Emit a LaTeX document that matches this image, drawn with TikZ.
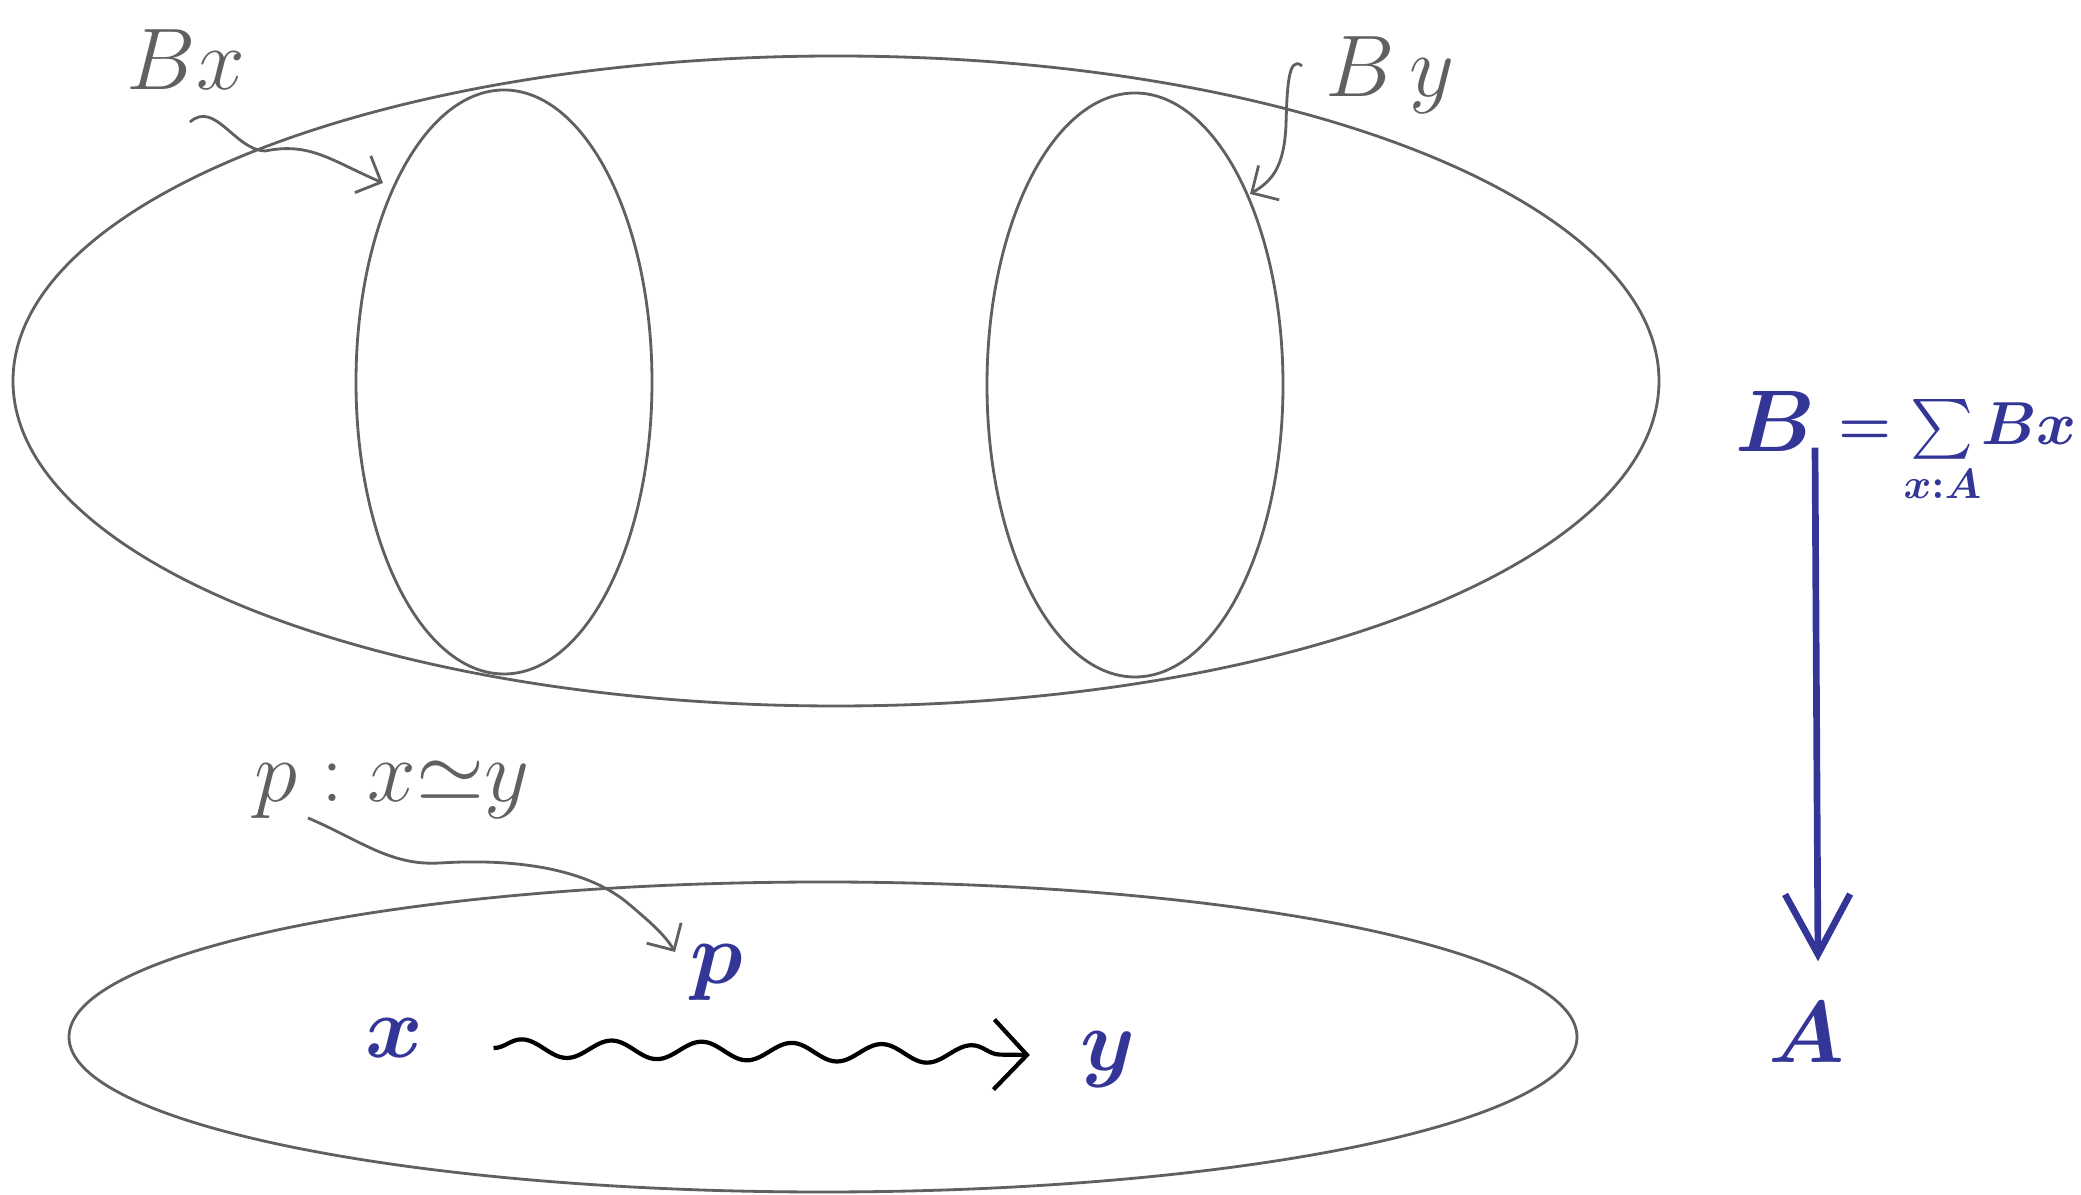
\documentclass[tikz,border=0pt]{standalone}
\usepackage{amsmath,amssymb}
\usepackage{xcolor}
\usepackage{tikz}
\usetikzlibrary{calc,arrows.meta,positioning,decorations.pathmorphing}
\definecolor{inkgray}{HTML}{606060}
\definecolor{inkblue}{HTML}{343697}
\tikzset{
  blob/.style={draw=inkgray,line width=0.8pt},
  gar/.style={-{Straight Barb[length=2mm,width=4mm]},line width=0.8pt,inkgray},
  glab/.style={inkgray,inner sep=0pt},
  blab/.style={inkblue,inner sep=0pt,font=\boldmath}
}

\begin{document}
\begin{tikzpicture}[x=0.01cm,y=-0.01cm]
\useasboundingbox (0,0) rectangle (2081,1195);
% total space and the two fibres
\draw[blob] (836,381) ellipse [x radius=823,y radius=325];
\draw[blob] (504,382) ellipse [x radius=148,y radius=292];
\draw[blob] (1135,385) ellipse [x radius=148,y radius=292];
% base
\draw[blob] (823,1037) ellipse [x radius=754,y radius=155];
% gray labels
\node[glab,font=\fontsize{27}{30}\selectfont] (bx) at (186,60) {$Bx$};
\node[glab,font=\fontsize{30}{33}\selectfont] (by) at (1390,75) {$B\,y$};
\node[glab,font=\fontsize{26}{29}\selectfont] (plab) at (392,790) {$p : x{\simeq}y$};
\coordinate (bxtail) at (190,122);
\coordinate (bxtip) at (383,183);
\coordinate (bytail) at (1302,66);
\coordinate (bytip) at (1250,194);
\coordinate (ptail) at (308,818);
\coordinate (ptip) at (675,952);
\draw[gar] (bxtail) .. controls (215,100) and (235,150) .. (265,151)
  .. controls (310,142) and (330,160) .. (bxtip);
\draw[gar] (bytail) .. controls (1288,54) and (1287,90) .. (1286,125)
  .. controls (1284,170) and (1270,182) .. (bytip);
\draw[gar] (ptail) .. controls (360,840) and (390,866) .. (440,863)
  .. controls (520,858) and (590,870) .. (630,905)
  .. controls (650,922) and (665,935) .. (ptip);
% blue labels
\node[blab,font=\fontsize{40}{44}\selectfont\boldmath] (x) at (394,1038) {$x$};
\node[blab,font=\fontsize{34}{38}\selectfont\boldmath] (p) at (717,973) {$p$};
\node[blab,font=\fontsize{42}{46}\selectfont\boldmath] (y) at (1108,1060) {$y$};
\node[blab,font=\fontsize{42}{46}\selectfont\boldmath] (B) at (1775,421) {$B$};
\node[blab,font=\fontsize{42}{46}\selectfont\boldmath] (A) at (1807,1032) {$A$};
\node[blab,anchor=base west,font=\fontsize{17}{19}\selectfont\boldmath] (sig) at (1838,445)
  {${=}\,{\textstyle\sum\limits_{x:A}}Bx$};
% path and projection
\draw[line width=1.2pt,decorate,
  decoration={snake,amplitude=0.9mm,segment length=9mm,post length=1.5mm},
  -{Straight Barb[length=3.3mm,width=7mm]}]
  ($(x.east)+(70,10)$) -- ($(y.west)+(-50,-5)$);
\draw[inkblue,line width=1.9pt,-{Straight Barb[length=6mm,width=6.5mm]}]
  ($(B.south)+(40,-4)$) -- ($(A.north)+(11,-40)$);
\end{tikzpicture}
\end{document}
